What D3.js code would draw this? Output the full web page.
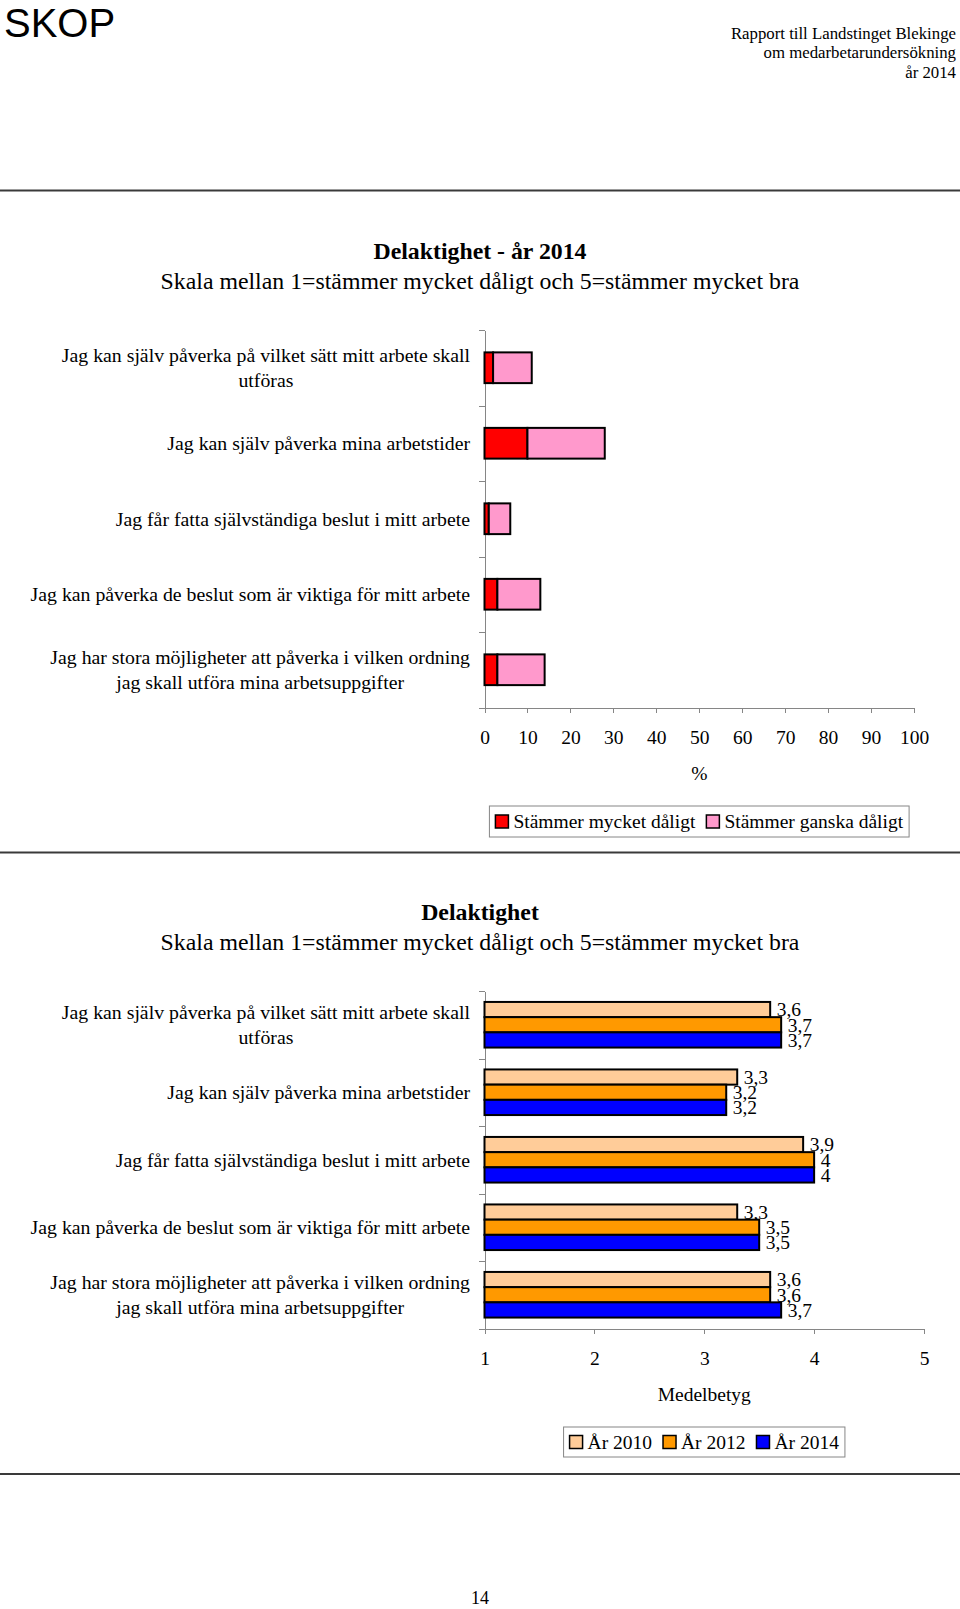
<!DOCTYPE html>
<meta charset="utf-8">
<style>
  body { margin: 0; background: #fff; }
  svg { display: block; font-family: "Liberation Serif", "Times New Roman", serif; }
  .axis path, .axis line { stroke: #868686; shape-rendering: crispEdges; }
  .axis text { font-family: "Liberation Serif", serif; font-size: 19.5px; fill: #000; }
</style>
<svg id="page" width="960" height="1609"></svg>
<script src="https://cdnjs.cloudflare.com/ajax/libs/d3/7.8.5/d3.min.js"></script>
<script>
// ********** DATA **********
var categories = [
  "Jag kan själv påverka på vilket sätt mitt arbete skall\nutföras",
  "Jag kan själv påverka mina arbetstider",
  "Jag får fatta självständiga beslut i mitt arbete",
  "Jag kan påverka de beslut som är viktiga för mitt arbete",
  "Jag har stora möjligheter att påverka i vilken ordning\njag skall utföra mina arbetsuppgifter"
];
var badSeries = ["Stämmer mycket dåligt", "Stämmer ganska dåligt"];
var veryBad = [2, 10, 1, 3, 3];      // % stämmer mycket dåligt
var ratherBad = [9, 18, 5, 10, 11];  // % stämmer ganska dåligt
var pctTicks = [0, 10, 20, 30, 40, 50, 60, 70, 80, 90, 100];

var years = ["År 2010", "År 2012", "År 2014"];
var score2010 = [3.6, 3.3, 3.9, 3.3, 3.6];
var score2012 = [3.7, 3.2, 4.0, 3.5, 3.6];
var score2014 = [3.7, 3.2, 4.0, 3.5, 3.7];
var scoreTicks = [1, 2, 3, 4, 5];

var badColors = ["#ff0000", "#ff99cc"];
var yearColors = ["#ffcc99", "#ff9900", "#0000ff"];

var svg = d3.select("#page");
var W = 960;

// ********** PAGE HEADER **********
svg.append("text").attr("x", 4).attr("y", 36.5)
  .style("font-family", "Liberation Sans, Arial, sans-serif").style("font-size", "40px")
  .text("SKOP");
["Rapport till Landstinget Blekinge", "om medarbetarundersökning", "år 2014"].forEach(function (t, i) {
  svg.append("text").attr("x", 956).attr("y", 38.5 + i * 19.5)
    .attr("text-anchor", "end").style("font-size", "16.8px").text(t);
});
[190.5, 852.5, 1474].forEach(function (y) {
  svg.append("line").attr("x1", 0).attr("x2", W).attr("y1", y).attr("y2", y)
    .attr("stroke", "#3a3a3a").attr("stroke-width", 2);
});
svg.append("text").attr("x", 480).attr("y", 1604)
  .attr("text-anchor", "middle").style("font-size", "18px").text("14");

// ********** HELPERS **********
function titles(lines, y0) {
  svg.append("text").attr("x", 480).attr("y", y0).attr("dy", "0.35em")
    .attr("text-anchor", "middle").style("font-size", "23.8px").style("font-weight", "bold")
    .text(lines[0]);
  svg.append("text").attr("x", 480).attr("y", y0 + 30).attr("dy", "0.35em")
    .attr("text-anchor", "middle").style("font-size", "23.8px")
    .text(lines[1]);
}

// labels are centred blocks whose right edge sits against the axis
function categoryLabels(band) {
  var right = 470;
  categories.forEach(function (c, i) {
    var parts = c.split("\n");
    var cy = band(i) + band.step() / 2;
    var g = svg.append("g");
    var texts = parts.map(function (p, k) {
      return g.append("text")
        .attr("y", cy + (k - (parts.length - 1) / 2) * 25)
        .attr("dy", "0.35em")
        .attr("text-anchor", "middle")
        .style("font-size", "19.8px")
        .text(p);
    });
    var maxW = d3.max(texts, function (t) { return t.node().getComputedTextLength(); });
    texts.forEach(function (t) { t.attr("x", right - maxW / 2); });
  });
}

function legend(names, colors, cx, y, h) {
  var g = svg.append("g");
  var box = g.append("rect").attr("fill", "#fff").attr("stroke", "#868686");
  var xpos = 0;
  var items = g.append("g");
  names.forEach(function (n, i) {
    items.append("rect").attr("x", xpos).attr("y", y + h / 2 - 6.5)
      .attr("width", 13).attr("height", 13)
      .attr("fill", colors[i]).attr("stroke", "#000").attr("stroke-width", 1.5);
    var t = items.append("text").attr("x", xpos + 18).attr("y", y + h / 2).attr("dy", "0.35em")
      .style("font-size", "19.5px").text(n);
    xpos += 18 + t.node().getComputedTextLength() + 11;
  });
  var wid = xpos - 11 + 12;
  items.attr("transform", "translate(" + (cx - wid / 2 + 6) + ",0)");
  box.attr("x", cx - wid / 2).attr("y", y).attr("width", wid).attr("height", h);
}

// ********** CHART 1: stacked percentages **********
titles(["Delaktighet - år 2014", "Skala mellan 1=stämmer mycket dåligt och 5=stämmer mycket bra"], 251);

var x1 = d3.scaleLinear().domain([0, 100]).range([484.5, 914]);
var y1 = d3.scaleBand().domain(d3.range(categories.length)).range([330, 707.5]);
var y1idx = d3.scaleLinear().domain([0, categories.length]).range([330, 707.5]);

svg.append("g").attr("class", "axis")
  .attr("transform", "translate(" + x1(0) + ",0)")
  .call(d3.axisLeft(y1idx).tickValues(d3.range(categories.length + 1)).tickFormat("").tickSize(6).tickSizeOuter(0));
svg.append("g").attr("class", "axis")
  .attr("transform", "translate(0," + y1idx(categories.length) + ")")
  .call(d3.axisBottom(x1).tickValues(pctTicks).tickFormat(d3.format("d")).tickSize(5).tickSizeOuter(0).tickPadding(18));

var stack = categories.map(function (c, i) {
  return [[0, veryBad[i]], [veryBad[i], veryBad[i] + ratherBad[i]]];
});
var bh1 = y1.step() * 0.407;
stack.forEach(function (segs, i) {
  segs.forEach(function (s, k) {
    svg.append("rect")
      .attr("x", x1(s[0])).attr("width", x1(s[1]) - x1(s[0]))
      .attr("y", y1(i) + (y1.step() - bh1) / 2).attr("height", bh1)
      .attr("fill", badColors[k]).attr("stroke", "#000").attr("stroke-width", 2);
  });
});
categoryLabels(y1);

svg.append("text").attr("x", x1(50)).attr("y", 773).attr("dy", "0.35em")
  .attr("text-anchor", "middle").style("font-size", "19.5px").text("%");
legend(badSeries, badColors, x1(50), 806, 31);

// ********** CHART 2: mean scores per year **********
titles(["Delaktighet", "Skala mellan 1=stämmer mycket dåligt och 5=stämmer mycket bra"], 912);

var x2 = d3.scaleLinear().domain([1, 5]).range([484.5, 924]);
var y2 = d3.scaleBand().domain(d3.range(categories.length)).range([991, 1328.5]);
var y2idx = d3.scaleLinear().domain([0, categories.length]).range([991, 1328.5]);
var inner = d3.scaleBand().domain(years).range([0, y2.step()]).paddingOuter(0.72);

svg.append("g").attr("class", "axis")
  .attr("transform", "translate(" + x2(1) + ",0)")
  .call(d3.axisLeft(y2idx).tickValues(d3.range(categories.length + 1)).tickFormat("").tickSize(6).tickSizeOuter(0));
svg.append("g").attr("class", "axis")
  .attr("transform", "translate(0," + y2idx(categories.length) + ")")
  .call(d3.axisBottom(x2).tickValues(scoreTicks).tickFormat(d3.format("d")).tickSize(5).tickSizeOuter(0).tickPadding(18));

var scores = [score2010, score2012, score2014];
var fmt = function (v) { return (Math.round(v * 10) / 10).toString().replace(".", ","); };
scores.forEach(function (vals, j) {
  vals.forEach(function (v, i) {
    var yy = y2(i) + inner(years[j]);
    svg.append("rect")
      .attr("x", x2(1)).attr("width", x2(v) - x2(1))
      .attr("y", yy).attr("height", inner.bandwidth())
      .attr("fill", yearColors[j]).attr("stroke", "#000").attr("stroke-width", 2);
    svg.append("text")
      .attr("x", x2(v) + 6.5).attr("y", yy + inner.bandwidth() / 2).attr("dy", "0.35em")
      .style("font-size", "19.5px").text(fmt(v));
  });
});
categoryLabels(y2);

svg.append("text").attr("x", x2(3)).attr("y", 1394).attr("dy", "0.35em")
  .attr("text-anchor", "middle").style("font-size", "19.5px").text("Medelbetyg");
legend(years, yearColors, x2(3), 1427, 30);
</script>
